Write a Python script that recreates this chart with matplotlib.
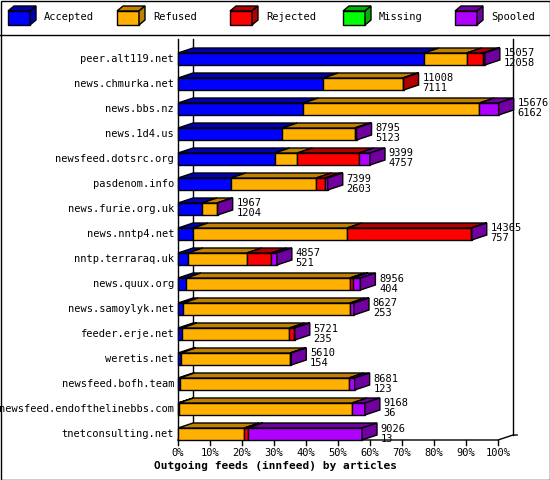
import matplotlib
matplotlib.use("Agg")
import matplotlib.pyplot as plt
from matplotlib.patches import Polygon, Rectangle

feeds = ["peer.alt119.net", "news.chmurka.net", "news.bbs.nz", "news.1d4.us",
         "newsfeed.dotsrc.org", "pasdenom.info", "news.furie.org.uk", "news.nntp4.net",
         "nntp.terraraq.uk", "news.quux.org", "news.samoylyk.net", "feeder.erje.net",
         "weretis.net", "newsfeed.bofh.team", "newsfeed.endofthelinebbs.com",
         "tnetconsulting.net"]
totals = [15057, 11008, 15676, 8795, 9399, 7399, 1967, 14365, 4857, 8956, 8627,
          5721, 5610, 8681, 9168, 9026]
accepted_n = [12058, 7111, 6162, 5123, 4757, 2603, 1204, 757, 521, 404, 253,
              235, 154, 123, 36, 13]
# percentages per segment
accepted = [76.9, 45.4, 39.2, 32.6, 30.2, 16.5, 7.5, 4.7, 3.1, 2.5, 1.6, 1.2, 0.9, 0.5, 0.2, 0.0]
refused = [13.3, 24.8, 55.0, 22.6, 7.1, 26.7, 4.7, 48.1, 18.4, 51.2, 52.1, 33.6, 34.1, 52.9, 54.2, 20.7]
rejected = [5.1, 0.3, 0.0, 0.0, 19.3, 2.8, 0.0, 38.8, 7.7, 0.9, 0.0, 1.6, 0.3, 0.0, 0.0, 1.1]
missing = [0.0] * 16
spooled = [0.6, 0.0, 6.0, 0.6, 3.4, 0.8, 0.2, 0.2, 1.7, 2.4, 1.3, 0.1, 0.1, 1.8, 4.0, 35.7]

names = ["Accepted", "Refused", "Rejected", "Missing", "Spooled"]
front = ["#0000ff", "#ffb000", "#ff0000", "#00ff00", "#b000ff"]
dark = ["#0000b0", "#c08000", "#b00000", "#00b000", "#7000a0"]

W, H = 550, 480
fig = plt.figure(figsize=(W / 100, H / 100), dpi=100)
bg = fig.add_axes([0, 0, 1, 1])
bg.set_xlim(0, W)
bg.set_ylim(H, 0)
bg.axis("off")
bg.add_patch(Rectangle((0.5, 0.5), W - 1, H - 1, fill=False, lw=1, ec="black"))
bg.plot([0, W], [35, 35], color="black", lw=1)

# legend
lx = [8, 117, 230, 343, 455]
for i, n in enumerate(names):
    x0, y0 = lx[i], 11
    bg.add_patch(Polygon([(x0, y0 + 14), (x0 + 22, y0 + 14), (x0 + 22, y0), (x0, y0)],
                         fc=front[i], ec="black", lw=1))
    bg.add_patch(Polygon([(x0, y0), (x0 + 6, y0 - 5), (x0 + 28, y0 - 5), (x0 + 22, y0)],
                         fc=dark[i], ec="black", lw=1))
    bg.add_patch(Polygon([(x0 + 22, y0), (x0 + 28, y0 - 5), (x0 + 28, y0 + 9), (x0 + 22, y0 + 14)],
                         fc=dark[i], ec="black", lw=1))
    bg.text(x0 + 36, y0 + 6, n, fontsize=7.5, family="DejaVu Sans Mono", va="center")

bg.text(275, 466, "Outgoing feeds (innfeed) by articles", fontsize=8, weight="bold",
        family="DejaVu Sans Mono", ha="center", va="center")

# plot axes: 0..100 maps to px 178..498; rows 25 px apart, first at 59
ax = fig.add_axes([178 / W, 1 - 440 / H, 320 / W, 400 / H])
ax.set_xlim(0, 100)
ax.set_ylim(15.24, -0.76)
ax.axis("off")
dx = 15 / 3.2   # depth in x units
dy = 5 / 25     # depth in row units
h = 0.24

k = dict(clip_on=False, lw=1, ec="black")
ax.plot([dx, dx], [-0.8, 15.24 - dy], color="black", lw=1, clip_on=False)
ax.plot([100 + dx, 100 + dx], [-0.8, 15.24 - dy], color="black", lw=1, clip_on=False)
ax.plot([0, 0], [-0.8, 15.24], color="black", lw=1, clip_on=False)
ax.plot([0, 100, 100 + dx, 106], [15.24, 15.24, 15.24 - dy, 15.24 - dy], color="black", lw=1, clip_on=False)
for t in range(0, 101, 10):
    ax.plot([t, t], [15.24, 15.44], color="black", lw=1, clip_on=False)
    ax.text(t, 15.76, f"{t}%", fontsize=7.5, family="DejaVu Sans Mono", ha="center", va="center")

for r, feed in enumerate(feeds):
    ax.text(-1.2, r, feed, fontsize=7.5, family="DejaVu Sans Mono", ha="right", va="center")
    segs = [accepted[r], refused[r], rejected[r], missing[r], spooled[r]]
    left = 0
    last = 0
    for i, w in enumerate(segs):
        if w <= 0:
            continue
        ax.add_patch(Polygon([(left, r + h), (left + w, r + h), (left + w, r - h), (left, r - h)],
                             fc=front[i], zorder=3 + r, **k))
        ax.add_patch(Polygon([(left, r - h), (left + dx, r - h - dy), (left + w + dx, r - h - dy),
                              (left + w, r - h)], fc=dark[i], zorder=3 + r, **k))
        left += w
        last = i
    ax.add_patch(Polygon([(left, r - h), (left + dx, r - h - dy), (left + dx, r + h - dy),
                          (left, r + h)], fc=dark[last], zorder=3 + r, **k))
    ax.text(left + dx + 1.2, r - 0.02, f"{totals[r]}\n{accepted_n[r]}", fontsize=7.5,
            family="DejaVu Sans Mono", va="center", linespacing=1.0, zorder=30)

fig.savefig("out.png", dpi=100)
